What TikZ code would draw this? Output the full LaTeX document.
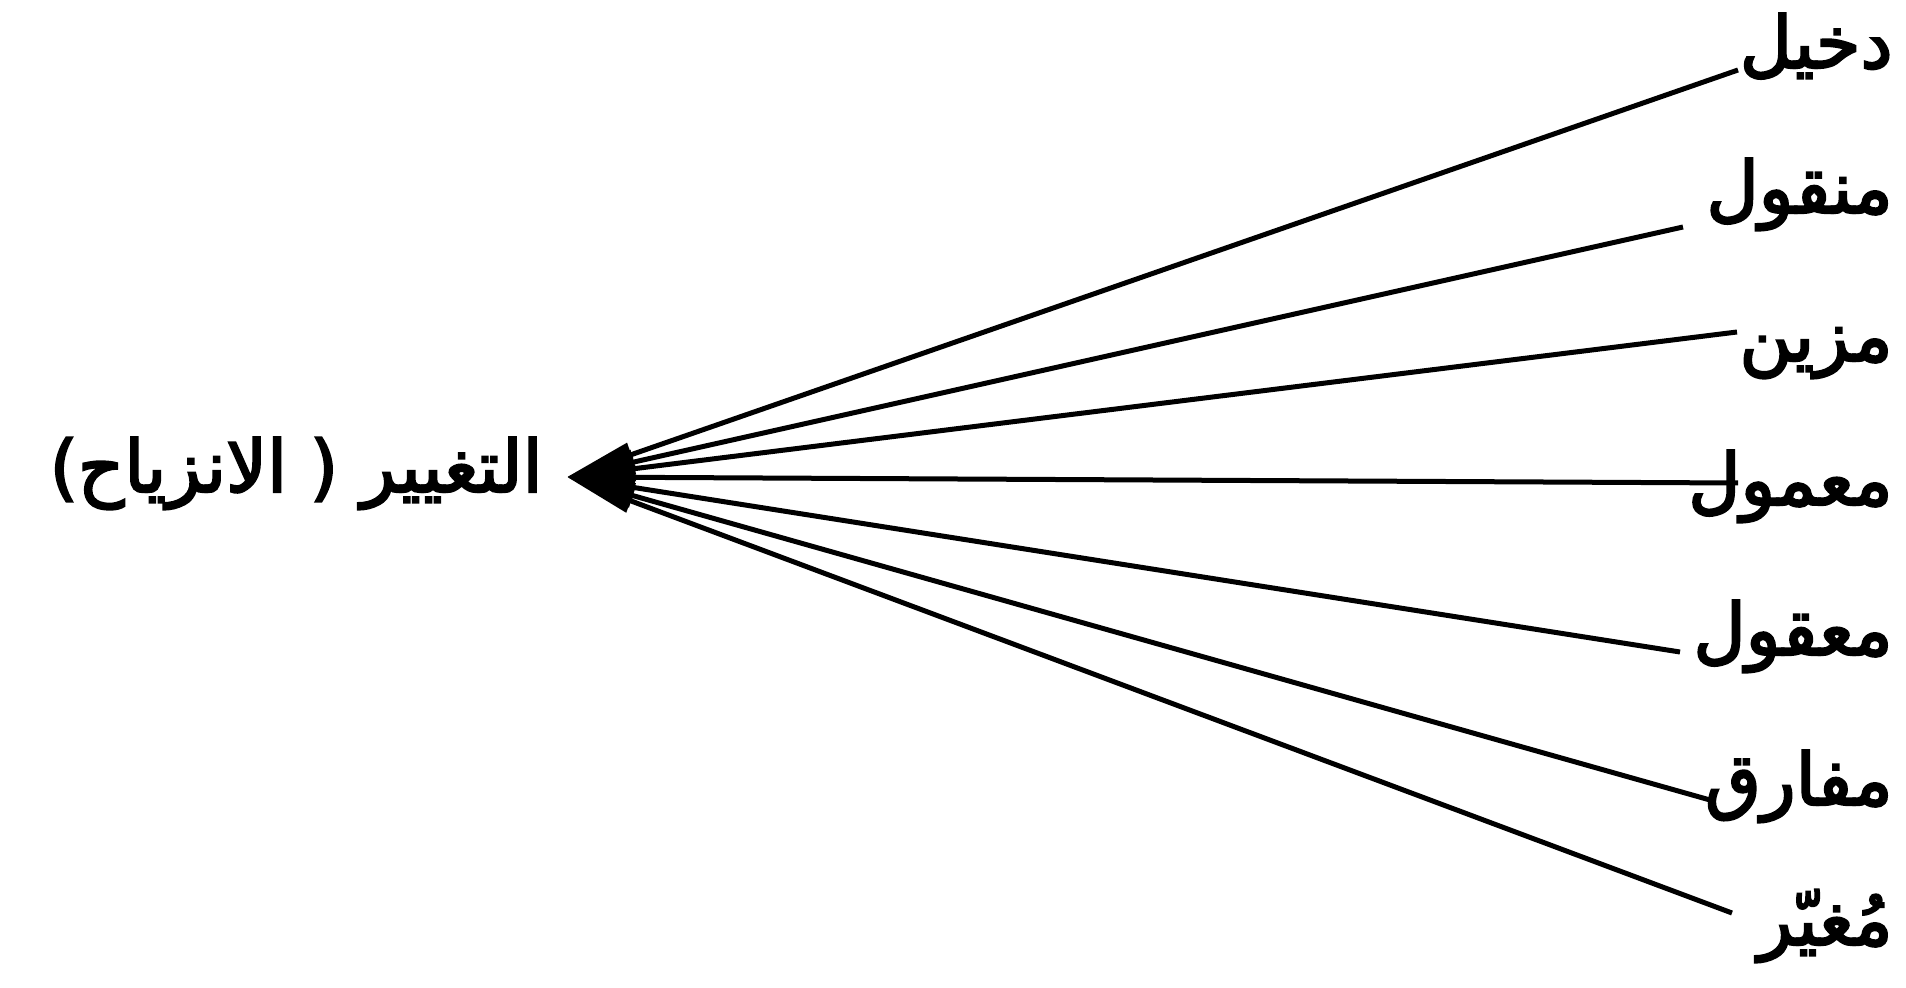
\documentclass[tikz,border=0pt]{standalone}
\usepackage{fontspec}
\newfontfamily\arabicfont[Script=Arabic,FakeBold=3]{DejaVu Sans}
\TeXXeTstate=1
\usetikzlibrary{arrows.meta}
\begin{document}
\begin{tikzpicture}[x=0.5pt,y=-0.5pt,
  lbl/.style={font=\arabicfont\fontsize{36}{40}\selectfont, inner sep=0pt, anchor=base east},
  conn/.style={line width=2.5pt, -{Triangle[length=34pt,width=12pt]}}]
\useasboundingbox[fill=white] (0,0) rectangle (1906,988);
\coordinate (tip) at (567,477);
\node[lbl] (center) at (543,492) {\beginR التغيير ( الانزياح)\endR};
\node[lbl] (l1) at (1893,68) {\beginR دخيل\endR};
\node[lbl] (l2) at (1893,213) {\beginR منقول\endR};
\node[lbl] (l3) at (1893,361) {\beginR مزين\endR};
\node[lbl] (l4) at (1893,505) {\beginR معمول\endR};
\node[lbl] (l5) at (1893,655) {\beginR معقول\endR};
\node[lbl] (l6) at (1893,805) {\beginR مفارق\endR};
\node[lbl] (l7) at (1893,945) {\beginR مُغيّر\endR};
\coordinate (e1) at (1738,70);
\coordinate (e2) at (1683,227);
\coordinate (e3) at (1737,332);
\coordinate (e4) at (1738,483);
\coordinate (e5) at (1680,652);
\coordinate (e6) at (1710,800);
\coordinate (e7) at (1732,913);
\foreach \i in {1,...,7} {\draw[conn] (e\i) -- (tip);}
\end{tikzpicture}
\end{document}
